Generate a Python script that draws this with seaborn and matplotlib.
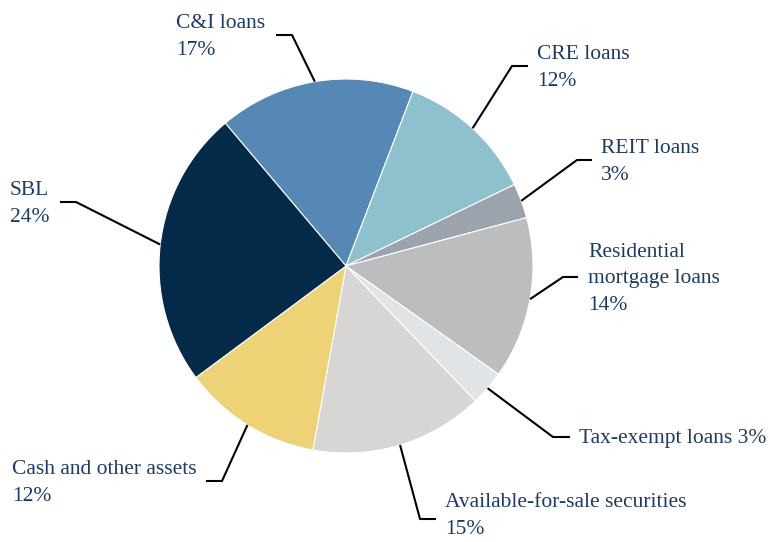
import numpy as np
import matplotlib
matplotlib.use("Agg")
import matplotlib.pyplot as plt
import seaborn as sns

categories = ["C&I loans", "CRE loans", "REIT loans", "Residential\nmortgage loans",
              "Tax-exempt loans", "Available-for-sale securities",
              "Cash and other assets", "SBL"]
values = [17, 12, 3, 14, 3, 15, 12, 24]
label_texts = ["C&I loans\n17%", "CRE loans\n12%", "REIT loans\n3%",
               "Residential\nmortgage loans\n14%", "Tax-exempt loans 3%",
               "Available-for-sale securities\n15%", "Cash and other assets\n12%",
               "SBL\n24%"]
colors = ["#5588B5", "#8DC1CD", "#9BA4AD", "#BCBDBF", "#E1E4E7", "#D7D6D4",
          "#EDD276", "#042A4A"]

sns.set_theme(style="white")
plt.rcParams['font.family'] = ['Liberation Serif', 'DejaVu Serif']

W, H = 770, 542
fig = plt.figure(figsize=(W / 100, H / 100), dpi=100)
ax = fig.add_axes([0, 0, 1, 1])

cx, cy, R = 346, 266, 187
def Y(y):
    return H - y

palette = sns.color_palette(colors)
wedges, _ = ax.pie(values, colors=palette, startangle=130.2, counterclock=False,
                   center=(cx, Y(cy)), radius=R,
                   wedgeprops=dict(linewidth=0.8, edgecolor="white"))
ax.set_xlim(0, W)
ax.set_ylim(0, H)
ax.set_aspect("equal")
ax.axis("off")

# elbow (x, y) in pixel coords, horizontal end x, text x, text y shift
layout = [
    ((292, 35), 276, 176, -2),
    ((512, 66), 528, 537, -2),
    ((577, 160), 592, 601, -2),
    ((563, 277), 578, 588, -2),
    ((553, 437), 570, 579, -2),
    ((420, 519), 436, 445, 3),
    ((222, 481), 206, 12, -2),
    ((76, 202), 60, 10, -2),
]
txt_color = "#1B3A6B"
for w, lab, (elb, hx, tx, dy) in zip(wedges, label_texts, layout):
    mid = np.deg2rad((w.theta1 + w.theta2) / 2)
    ex = cx + R * np.cos(mid)
    ey = Y(cy) + R * np.sin(mid)
    ax.plot([ex, elb[0], hx], [ey, Y(elb[1]), Y(elb[1])], color="black",
            lw=1.5, solid_capstyle="butt", solid_joinstyle="miter", clip_on=False)
    ax.text(tx, Y(elb[1]) + dy, lab, ha="left", va="center", fontsize=15.5,
            color=txt_color, linespacing=1.52)

fig.savefig("out.png", dpi=100)
